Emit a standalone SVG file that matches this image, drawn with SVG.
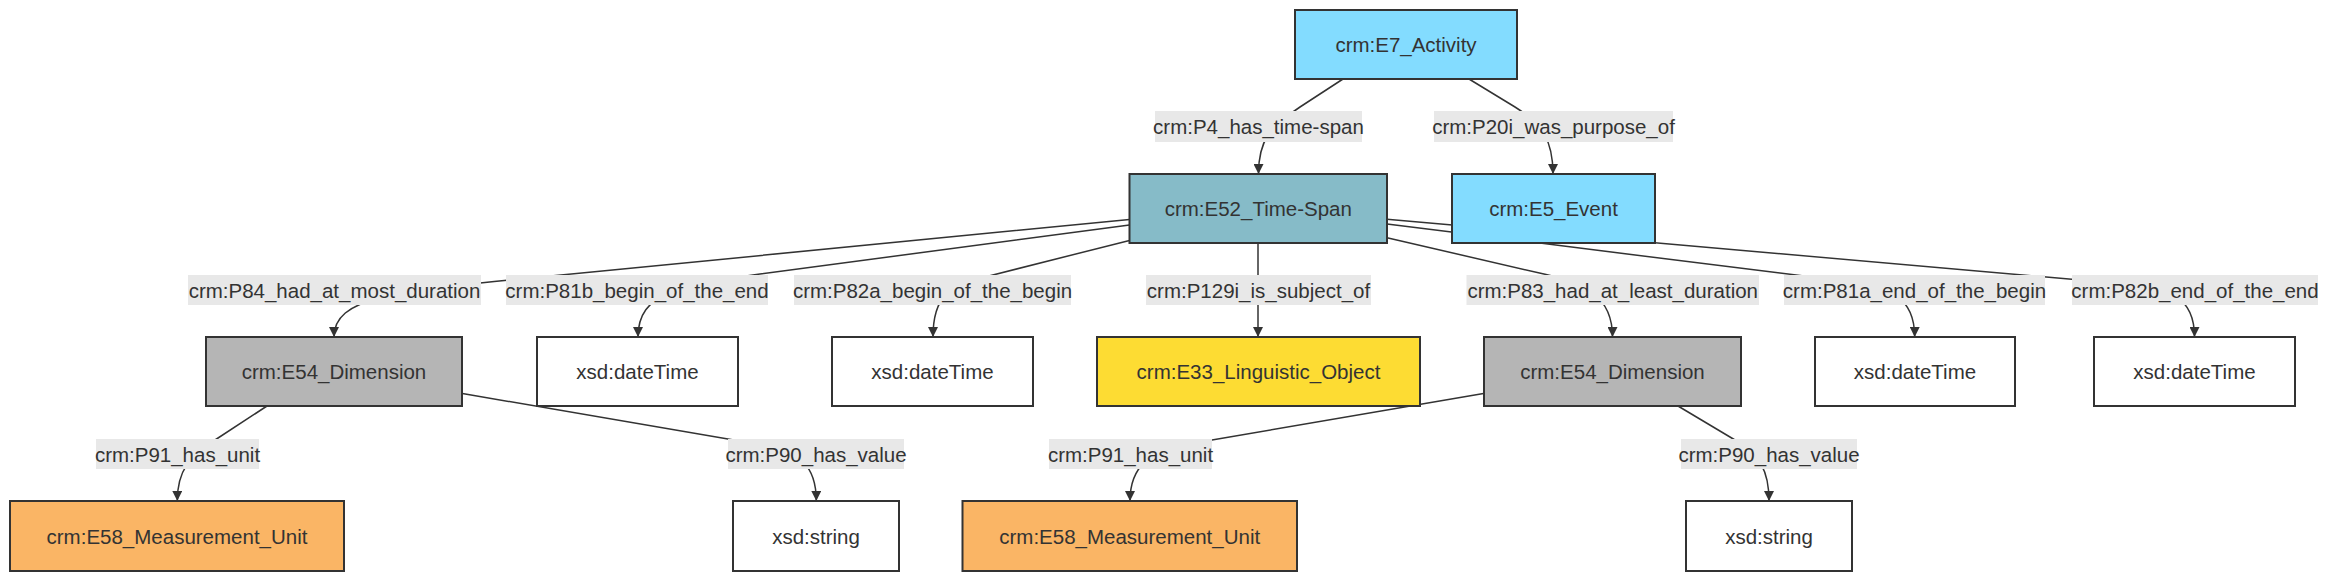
<svg xmlns="http://www.w3.org/2000/svg" width="2352" height="588" viewBox="0 0 2352 588">
<style>
.node rect{stroke:#333;stroke-width:2}
.node text{font-family:"Liberation Sans",Arial,sans-serif;font-size:20.5px;fill:#333;text-anchor:middle;dominant-baseline:central}
.edge{fill:none;stroke:#333;stroke-width:1.5;marker-end:url(#arrow)}
.lbl rect{fill:#e8e8e8;stroke:none}
.lbl text{font-family:"Liberation Sans",Arial,sans-serif;font-size:20.5px;fill:#333;text-anchor:middle;dominant-baseline:central}
.blue{fill:#83dcff}.ts{fill:#86bbc8}.dim{fill:#b5b5b5}.ling{fill:#fddc33}.unit{fill:#fab565}.lit{fill:#fff}
</style>
<defs>
<marker id="arrow" markerUnits="userSpaceOnUse" viewBox="0 0 10 10" refX="10" refY="5" markerWidth="10" markerHeight="10" orient="auto">
<path d="M0,0 L10,5 L0,10 z" fill="#333"/>
</marker>
</defs>
<rect width="2352" height="588" fill="#fff"/>
<g id="connectors">
<path class="edge" d="M1343,79 L1300,107 C1270,127 1258.5,140 1258.5,174"/>
<path class="edge" d="M1469,79 L1515,107 C1542,124 1553,140 1553,174"/>
<path class="edge" d="M1129.5,219.4 L520,279 C400,291 334,296 334,337"/>
<path class="edge" d="M1129.5,225 L760,274 C680,285 638,292 638,337"/>
<path class="edge" d="M1129.5,240.4 L985,277 C950,286 933,295 933,337"/>
<path class="edge" d="M1258,243 L1258,337"/>
<path class="edge" d="M1387,237.8 L1545,274.3 C1585,283.5 1612.5,296 1612.5,337"/>
<path class="edge" d="M1387,224 L1840,280.6 C1890,286.9 1914.7,296 1914.7,337"/>
<path class="edge" d="M1387,219.3 L2120,283.5 C2170,287.9 2194.5,296 2194.5,337"/>
<path class="edge" d="M267,406 L215,440 C190,456 177.3,470 177.3,501"/>
<path class="edge" d="M462.4,393.5 L760,444.5 C800,451 816.3,466 816.3,501"/>
<path class="edge" d="M1483.5,393.5 L1190,443.8 C1150,450.6 1130,466 1130,501"/>
<path class="edge" d="M1678,406 L1735,440 C1760,456 1769,470 1769,501"/>
</g>
<g id="edge-labels">
<g class="lbl"><rect x="1155" y="111" width="207" height="31"/><text x="1258.5" y="126.5">crm:P4_has_time-span</text></g>
<g class="lbl"><rect x="1434" y="111" width="239" height="31"/><text x="1553.5" y="126.5">crm:P20i_was_purpose_of</text></g>
<g class="lbl"><rect x="188" y="275" width="293" height="30"/><text x="334.5" y="290">crm:P84_had_at_most_duration</text></g>
<g class="lbl"><rect x="506" y="275" width="262" height="30"/><text x="637" y="290">crm:P81b_begin_of_the_end</text></g>
<g class="lbl"><rect x="794" y="275" width="277" height="30"/><text x="932.5" y="290">crm:P82a_begin_of_the_begin</text></g>
<g class="lbl"><rect x="1146" y="275" width="225" height="30"/><text x="1258.5" y="290">crm:P129i_is_subject_of</text></g>
<g class="lbl"><rect x="1466.5" y="275" width="292.5" height="30"/><text x="1612.7" y="290">crm:P83_had_at_least_duration</text></g>
<g class="lbl"><rect x="1784" y="275" width="261" height="30"/><text x="1914.5" y="290">crm:P81a_end_of_the_begin</text></g>
<g class="lbl"><rect x="2072" y="275" width="246" height="30"/><text x="2195" y="290">crm:P82b_end_of_the_end</text></g>
<g class="lbl"><rect x="96" y="439" width="163" height="30"/><text x="177.5" y="454">crm:P91_has_unit</text></g>
<g class="lbl"><rect x="728" y="439" width="176" height="30"/><text x="816" y="454">crm:P90_has_value</text></g>
<g class="lbl"><rect x="1049" y="439" width="163" height="30"/><text x="1130.5" y="454">crm:P91_has_unit</text></g>
<g class="lbl"><rect x="1681" y="439" width="176" height="30"/><text x="1769" y="454">crm:P90_has_value</text></g>
</g>
<g id="n-E7" class="node"><rect class="blue" x="1295" y="10" width="222" height="69"/><text x="1406" y="44.5">crm:E7_Activity</text></g>
<g id="n-E52" class="node"><rect class="ts" x="1129.5" y="174" width="257.5" height="69"/><text x="1258.3" y="208.5">crm:E52_Time-Span</text></g>
<g id="n-E5" class="node"><rect class="blue" x="1452" y="174" width="203" height="69"/><text x="1553.5" y="208.5">crm:E5_Event</text></g>
<g id="n-E54a" class="node"><rect class="dim" x="206" y="337" width="256" height="69"/><text x="334" y="371.5">crm:E54_Dimension</text></g>
<g id="n-dt1" class="node"><rect class="lit" x="537" y="337" width="201" height="69"/><text x="637.5" y="371.5">xsd:dateTime</text></g>
<g id="n-dt2" class="node"><rect class="lit" x="832" y="337" width="201" height="69"/><text x="932.5" y="371.5">xsd:dateTime</text></g>
<g id="n-E33" class="node"><rect class="ling" x="1097" y="337" width="323" height="69"/><text x="1258.5" y="371.5">crm:E33_Linguistic_Object</text></g>
<g id="n-E54b" class="node"><rect class="dim" x="1484" y="337" width="257" height="69"/><text x="1612.5" y="371.5">crm:E54_Dimension</text></g>
<g id="n-dt3" class="node"><rect class="lit" x="1815" y="337" width="200" height="69"/><text x="1915" y="371.5">xsd:dateTime</text></g>
<g id="n-dt4" class="node"><rect class="lit" x="2094" y="337" width="201" height="69"/><text x="2194.5" y="371.5">xsd:dateTime</text></g>
<g id="n-E58a" class="node"><rect class="unit" x="10" y="501" width="334" height="70"/><text x="177" y="536">crm:E58_Measurement_Unit</text></g>
<g id="n-strA" class="node"><rect class="lit" x="733" y="501" width="166" height="70"/><text x="816" y="536">xsd:string</text></g>
<g id="n-E58b" class="node"><rect class="unit" x="962.5" y="501" width="334.5" height="70"/><text x="1129.7" y="536">crm:E58_Measurement_Unit</text></g>
<g id="n-strB" class="node"><rect class="lit" x="1686" y="501" width="166" height="70"/><text x="1769" y="536">xsd:string</text></g>
</svg>
